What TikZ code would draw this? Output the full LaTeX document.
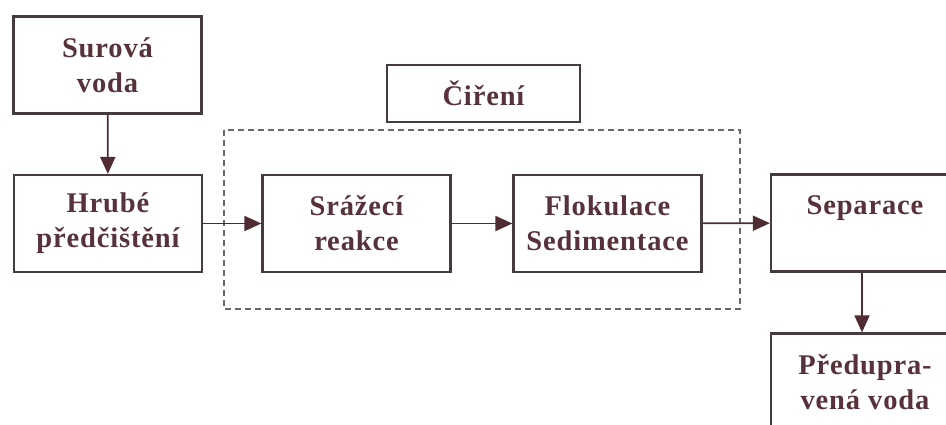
\documentclass[tikz,border=0pt]{standalone}
\usepackage{fontspec}
\setmainfont{Liberation Serif}[LetterSpace=3]
\usetikzlibrary{arrows.meta}
\definecolor{inkText}{RGB}{88,50,58}
\definecolor{inkLine}{RGB}{70,60,62}
\definecolor{inkArrow}{RGB}{78,44,50}
\definecolor{inkDash}{RGB}{105,105,105}
\tikzset{
  stepbox/.style={draw=inkLine, line width=2.2pt, rectangle,
    minimum width=188pt, minimum height=97pt, inner sep=0pt,
    align=center, text=inkText,
    font=\fontsize{28.5}{35}\selectfont\bfseries},
  flow/.style={draw=inkArrow, line width=1.8pt,
    -{Triangle[length=17pt,width=15pt]}, color=inkArrow},
  groupframe/.style={draw=inkDash, line width=1.3pt, dash pattern=on 6pt off 4pt}
}
\begin{document}
\begin{tikzpicture}[x=1pt,y=-1pt]
  \useasboundingbox[fill=white] (0,0) rectangle (946,425);
  \clip (0,0) rectangle (946,425);

  % clarification group frame and its title
  \draw[groupframe] (224,130) rectangle (740,309);
  \node[stepbox, minimum width=193pt, minimum height=57pt] (ciren) at (483.5,93.5) {Čiření};

  % process steps
  \node[stepbox] (surova) at (107.5,65) {Surová\\voda};
  \node[stepbox] (hrube) at (108,223.5) {Hrubé\\předčištění};
  \node[stepbox] (srazeci) at (356.5,223.5) {Srážecí\\reakce};
  \node[stepbox] (flok) at (607.5,223.5) {Flokulace\\Sedimentace};
  \node[stepbox] (separ) at (865,223) {Separace\\\mbox{}};
  \node[stepbox] (predup) at (865,382) {Předupra-\\vená voda};

  % flow connectors
  \draw[flow] (surova) -- (hrube);
  \draw[flow] (hrube) -- (srazeci);
  \draw[flow] (srazeci) -- (flok);
  \draw[flow] (flok) -- (separ);
  \draw[flow] (separ.south) ++(-3,0) coordinate (sepout) -- (sepout |- predup.north);
\end{tikzpicture}
\end{document}
